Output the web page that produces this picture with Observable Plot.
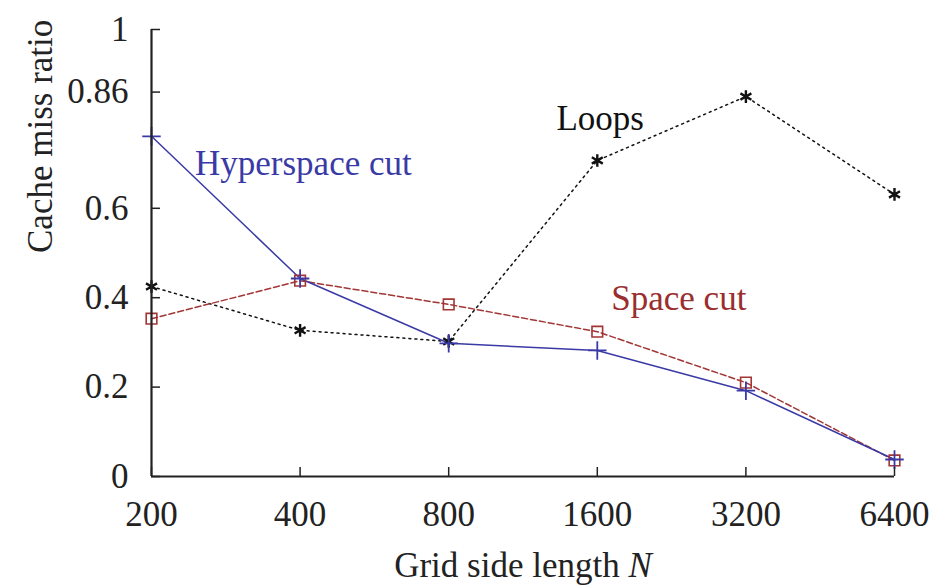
<!DOCTYPE html>
<html>
<head>
<meta charset="utf-8">
<script src="https://cdn.jsdelivr.net/npm/d3@7"></script>
<script src="https://cdn.jsdelivr.net/npm/@observablehq/plot@0.6"></script>
<style>
  html, body { margin: 0; padding: 0; background: #fff; }
  svg text, svg tspan { font-family: "Liberation Serif", "Times New Roman", serif !important; }
</style>
</head>
<body>
<div id="chart"></div>
<script>
// ---- data ----
const gridN = [200, 400, 800, 1600, 3200, 6400];
const hyperspaceCut = [0.761, 0.443, 0.298, 0.282, 0.192, 0.038];
const spaceCut = [0.353, 0.438, 0.385, 0.324, 0.210, 0.036];
const loops = [0.425, 0.327, 0.302, 0.707, 0.850, 0.631];
const yTickValues = [0, 0.2, 0.4, 0.6, 0.86, 1];
const xTickValues = [200, 400, 800, 1600, 3200, 6400];
const seriesLabels = [
  {name: "Hyperspace cut", n: 245, v: 0.70, color: "#3a3aa6"},
  {name: "Loops", n: 1322, v: 0.80, color: "#111"},
  {name: "Space cut", n: 1708, v: 0.398, color: "#9a2e2e"}
];

const BLUE = "#3a3aa6", RED = "#a33535", BLACK = "#111";
const rows = (vals) => gridN.map((n, i) => ({n, v: vals[i]}));

const FONT = "'Liberation Serif', 'Times New Roman', serif";
const FS = 35;

const chart = Plot.plot({
  width: 933,
  height: 585,
  marginLeft: 151,
  marginRight: 39,
  marginTop: 29,
  marginBottom: 109,
  style: {fontFamily: FONT, fontSize: FS + "px", background: "#fff", color: "#333"},
  x: {type: "log", domain: [200, 6400]},
  y: {domain: [0, 1]},
  marks: [
    // series lines
    Plot.line(rows(loops), {x: "n", y: "v", stroke: BLACK, strokeWidth: 1.5, strokeDasharray: "2,4"}),
    Plot.line(rows(spaceCut), {x: "n", y: "v", stroke: RED, strokeWidth: 1.5, strokeDasharray: "6,3"}),
    Plot.line(rows(hyperspaceCut), {x: "n", y: "v", stroke: BLUE, strokeWidth: 1.5}),
    // markers
    Plot.dot(rows(loops), {x: "n", y: "v", symbol: "asterisk", r: 6, stroke: BLACK, strokeWidth: 2.4}),
    Plot.dot(rows(spaceCut), {x: "n", y: "v", symbol: "square", r: 6, stroke: RED, strokeWidth: 1.6, fill: "none"}),
    Plot.dot(rows(hyperspaceCut), {x: "n", y: "v", symbol: "plus", r: 6, stroke: BLUE, strokeWidth: 1.8}),
    // inward tick marks
    Plot.axisY({ticks: yTickValues, tickSize: 9, dx: 9, text: null, stroke: "#222", strokeWidth: 1.5, label: null}),
    Plot.axisX({ticks: xTickValues, tickSize: 9, dy: -9, text: null, stroke: "#222", strokeWidth: 1.5, label: null}),
    // tick labels
    Plot.text(yTickValues, {y: d => d, text: d => String(d), frameAnchor: "left", textAnchor: "end", dx: -23, fontSize: FS, fontFamily: FONT, fill: "#222"}),
    Plot.text(xTickValues, {x: d => d, text: d => String(d), frameAnchor: "bottom", lineAnchor: "top", dy: 25, fontSize: FS, fontFamily: FONT, fill: "#222"}),
    // axis lines
    Plot.ruleX([200], {stroke: "#222", strokeWidth: 2.2}),
    Plot.ruleY([0], {stroke: "#222", strokeWidth: 2.2}),
    // series labels
    Plot.text(seriesLabels, {x: "n", y: "v", text: "name", fill: "color", textAnchor: "start", fontSize: FS, fontFamily: FONT}),
    // axis titles
    Plot.text(["Cache miss ratio"], {frameAnchor: "left", rotate: -90, dx: -111, fontSize: FS, fontFamily: FONT, fill: "#222"}),
    Plot.text(["Grid side length N"], {frameAnchor: "bottom", dy: 100, fontSize: FS, fontFamily: FONT, fill: "#222"})
  ]
});

// italicize the variable N in the x title
chart.querySelectorAll("text").forEach(t => {
  if (t.textContent === "Grid side length N") {
    t.textContent = "";
    const ns = "http://www.w3.org/2000/svg";
    const a = document.createElementNS(ns, "tspan");
    a.textContent = "Grid side length ";
    const b = document.createElementNS(ns, "tspan");
    b.textContent = "N";
    b.setAttribute("font-style", "italic");
    t.appendChild(a); t.appendChild(b);
  }
});

document.getElementById("chart").appendChild(chart);
</script>
</body>
</html>
